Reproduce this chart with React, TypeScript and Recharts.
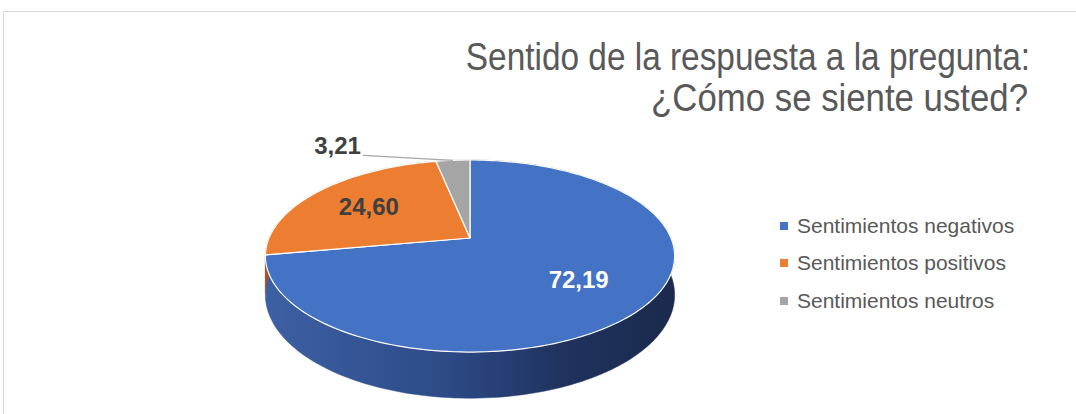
import React from "react";
import { PieChart, Pie, Cell, Legend } from "recharts";

const CATEGORIES = ["Sentimientos negativos", "Sentimientos positivos", "Sentimientos neutros"];
const VALUES = [72.19, 24.6, 3.21];
const VALUE_LABELS = ["72,19", "24,60", "3,21"];
const TITLE_LINES = ["Sentido de la respuesta a la pregunta:", "¿Cómo se siente usted?"];

const COLORS = ["#4472C4", "#ED7D31", "#A5A5A5"];
const SIDE_FILLS = ["url(#sideBlue)", "#a5561f", "#777777"];
const LABEL_COLORS = ["#ffffff", "#404040", "#404040"];

const W = 1076;
const H = 414;
const CX = 470;
const CY = 238;
const R = 201;
// fake 3d: squash, perspective and wall height
const TILT = 0.461;
const PERSP = 0.1875;
const DEPTH = 37.5;
const RAD = Math.PI / 180;

const data = CATEGORIES.map((name, i) => ({ name, value: VALUES[i] }));

function project(cx: number, cy: number, r: number, angle: number, frac = 1, drop = 0) {
  const c = Math.cos(angle * RAD);
  const s = Math.sin(angle * RAD);
  const w = 1 + PERSP * frac * s;
  return [cx + (frac * r * c) / w, cy - (frac * r * TILT * s) / w + drop / w];
}

function arcPoints(cx: number, cy: number, r: number, a0: number, a1: number, drop = 0) {
  const n = Math.max(2, Math.ceil(Math.abs(a1 - a0) / 1.5));
  const pts: number[][] = [];
  for (let i = 0; i <= n; i++) {
    const a = a0 + ((a1 - a0) * i) / n;
    pts.push(project(cx, cy, r, a, 1, drop));
  }
  return pts;
}

function TopFace(props: any) {
  const { cx, cy, outerRadius, startAngle, endAngle, fill } = props;
  const pts = arcPoints(cx, cy, outerRadius, startAngle, endAngle);
  const d = `M${cx},${cy}` + pts.map((p) => `L${p[0].toFixed(2)},${p[1].toFixed(2)}`).join("") + "Z";
  return <path d={d} fill={fill} stroke="#ffffff" strokeWidth={1.2} strokeLinejoin="round" />;
}

function SideWall(props: any) {
  const { cx, cy, outerRadius, startAngle, endAngle, fill } = props;
  const top = arcPoints(cx, cy, outerRadius, startAngle, endAngle);
  const bottom = arcPoints(cx, cy, outerRadius, startAngle, endAngle, DEPTH).reverse();
  const pts = top.concat(bottom);
  const d = pts.map((p, i) => `${i ? "L" : "M"}${p[0].toFixed(2)},${p[1].toFixed(2)}`).join("") + "Z";
  return <path d={d} fill={fill} stroke={fill} strokeWidth={0.5} />;
}

const renderLabel = (props: any) => {
  const { cx, cy, outerRadius, midAngle, index } = props;
  const style = {
    fontFamily: "'Liberation Sans', Arial, sans-serif",
    fontWeight: 700,
    fontSize: 24,
    fill: LABEL_COLORS[index],
  };
  if (index === 2) {
    const [x, y] = project(cx, cy, outerRadius, midAngle, 1);
    return (
      <g>
        <line x1={x - 90} y1={y - 5} x2={x} y2={y} stroke="#a6a6a6" strokeWidth={1.3} />
        <text x={x - 92} y={y - 6} textAnchor="end" style={style}>
          {VALUE_LABELS[index]}
        </text>
      </g>
    );
  }
  const [x, y] = project(cx, cy, outerRadius, midAngle, 0.65);
  return (
    <text x={x} y={y} textAnchor="middle" dominantBaseline="central" style={style}>
      {VALUE_LABELS[index]}
    </text>
  );
};

const renderLegend = (props: any) => {
  const payload = (props.payload || [])
    .filter((p: any) => p.type !== "none" && CATEGORIES.includes(p.value))
    .sort((a: any, b: any) => CATEGORIES.indexOf(a.value) - CATEGORIES.indexOf(b.value));
  return (
    <div style={{ fontFamily: "'Liberation Sans', Arial, sans-serif", fontSize: 21, color: "#595959" }}>
      {payload.map((p: any, i: number) => (
        <div key={i} style={{ display: "flex", alignItems: "center", height: 37.5, whiteSpace: "nowrap" }}>
          <span style={{ width: 8, height: 8, background: p.color || COLORS[i], marginRight: 9, flex: "none" }} />
          <span>{p.value}</span>
        </div>
      ))}
    </div>
  );
};

const titleStyle = { fontFamily: "'Liberation Sans', Arial, sans-serif", fontSize: 39, fill: "#595959" };

export default function App() {
  return (
    <div style={{ position: "absolute", left: 0, top: 0, width: W, height: H, overflow: "hidden", background: "#fff" }}>
      <div
        style={{
          position: "absolute",
          left: 3,
          top: 11,
          width: 1120,
          height: 460,
          border: "1.5px solid #d9d9d9",
        }}
      />
      <div style={{ position: "absolute", left: 0, top: 0 }}>
        <PieChart width={W} height={H} margin={{ top: 0, right: 0, bottom: 0, left: 0 }}>
          <defs>
            <linearGradient id="sideBlue" gradientUnits="userSpaceOnUse" x1={CX - R * 1.02} y1={0} x2={CX + R * 1.02} y2={0}>
              <stop offset="0" stopColor="#3d60a4" />
              <stop offset="0.45" stopColor="#2d4a86" />
              <stop offset="0.72" stopColor="#1f335f" />
              <stop offset="1" stopColor="#1b2a4c" />
            </linearGradient>
          </defs>
          <g transform="translate(1030,70) scale(0.856,1)">
            <text x={0} y={0} textAnchor="end" style={titleStyle}>
              {TITLE_LINES[0]}
            </text>
          </g>
          <g transform="translate(1028,111) scale(0.892,1)">
            <text x={0} y={0} textAnchor="end" style={titleStyle}>
              {TITLE_LINES[1]}
            </text>
          </g>
          <Pie
            data={data}
            dataKey="value"
            nameKey="name"
            cx={CX}
            cy={CY}
            outerRadius={R}
            startAngle={90}
            endAngle={-270}
            stroke="none"
            legendType="none"
            isAnimationActive={false}
            shape={SideWall}
            activeShape={SideWall}
            inactiveShape={SideWall}
          >
            {data.map((_, i) => (
              <Cell key={i} fill={SIDE_FILLS[i]} />
            ))}
          </Pie>
          <Pie
            data={data}
            dataKey="value"
            nameKey="name"
            cx={CX}
            cy={CY}
            outerRadius={R}
            startAngle={90}
            endAngle={-270}
            isAnimationActive={false}
            shape={TopFace}
            activeShape={TopFace}
            inactiveShape={TopFace}
            label={renderLabel}
            labelLine={false}
          >
            {data.map((_, i) => (
              <Cell key={i} fill={COLORS[i]} />
            ))}
          </Pie>
          <Legend
            layout="vertical"
            align="right"
            verticalAlign="top"
            content={renderLegend}
            wrapperStyle={{ left: 780, top: 207, width: 290, right: "auto", bottom: "auto" }}
          />
        </PieChart>
      </div>
    </div>
  );
}
